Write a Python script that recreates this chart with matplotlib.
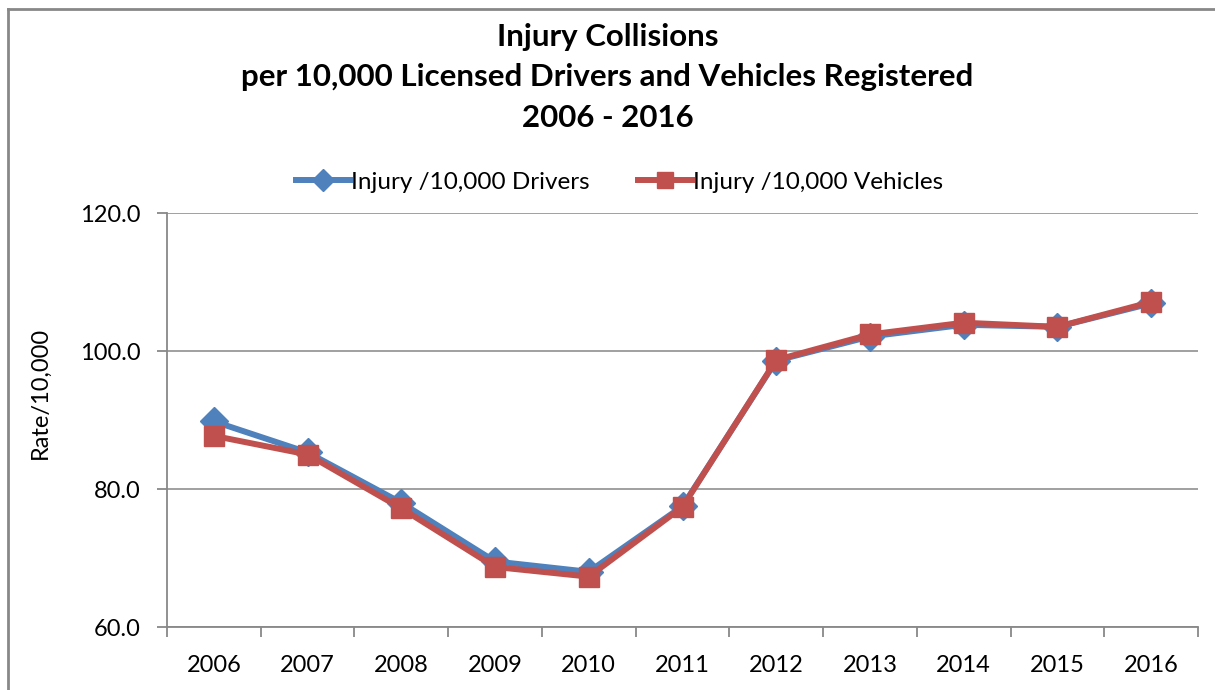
import matplotlib
matplotlib.use("Agg")
import matplotlib.pyplot as plt
from matplotlib.lines import Line2D

years = ["2006", "2007", "2008", "2009", "2010", "2011", "2012", "2013", "2014", "2015", "2016"]
drivers = [89.8, 85.3, 78.0, 69.5, 68.0, 77.5, 98.6, 102.1, 103.8, 103.5, 106.9]
vehicles = [87.7, 85.0, 77.2, 68.7, 67.3, 77.4, 98.7, 102.4, 104.1, 103.5, 107.1]
y_ticks = [60, 80, 100, 120]

plt.rcParams['font.family'] = ['Lato', 'DejaVu Sans']

W, H = 1215, 690
fig = plt.figure(figsize=(W / 100, H / 100), dpi=100)
ax = fig.add_axes([167 / W, 1 - 627 / H, (1198 - 167) / W, (627 - 213) / H])

x = list(range(len(years)))
ax.plot(x, drivers, color="#4F81BD", lw=4.3, marker="D", ms=14,
        mec="#4F81BD", label="Injury /10,000 Drivers", zorder=3)
ax.plot(x, vehicles, color="#C0504D", lw=4.3, marker="s", ms=14,
        mec="#C0504D", label="Injury /10,000 Vehicles", zorder=4)

ax.set_xlim(-0.5, len(years) - 0.5)
ax.set_ylim(60, 120)
ax.set_yticks(y_ticks)
ax.set_yticklabels([f"{v:.1f}" for v in y_ticks])
ax.set_xticks(x)
ax.set_xticklabels(years)
ax.set_xticks([i - 0.5 for i in range(len(years) + 1)], minor=True)
ax.tick_params(axis="x", which="major", length=0, pad=20, labelsize=17)
ax.tick_params(axis="x", which="minor", length=7, color="#888888", width=1.3)
ax.tick_params(axis="y", length=7, color="#888888", width=1.3, pad=12, labelsize=17)
ax.grid(axis="y", color="#999999", lw=1.3)
ax.set_axisbelow(True)
for s in ["top", "right"]:
    ax.spines[s].set_visible(False)
for s in ["left", "bottom"]:
    ax.spines[s].set_color("#888888")
    ax.spines[s].set_linewidth(1.3)

fig.text(40 / W, 1 - 393 / H, "Rate/10,000", rotation=90, ha="center",
         va="center", fontsize=17)

fig.text(0.5, 1 - 37 / H, "Injury Collisions", ha="center", va="center",
         fontsize=22.5, fontweight="bold")
fig.text(0.5, 1 - 77 / H, "per 10,000 Licensed Drivers and Vehicles Registered",
         ha="center", va="center", fontsize=22.5, fontweight="bold")
fig.text(0.5, 1 - 118 / H, "2006 - 2016", ha="center", va="center",
         fontsize=22.5, fontweight="bold")

fig.legend(loc="center", bbox_to_anchor=(0.510, 1 - 182 / H), ncol=2,
           frameon=False, fontsize=17.5, handlelength=2.2, handletextpad=0.05,
           columnspacing=2.0, markerscale=0.8)

# chart border (top and left edges visible)
fig.add_artist(Line2D([8 / W, 1], [1 - 9 / H, 1 - 9 / H], color="#888888", lw=2))
fig.add_artist(Line2D([8 / W, 8 / W], [0, 1 - 9 / H], color="#888888", lw=2))

fig.savefig("out.png", dpi=100)
